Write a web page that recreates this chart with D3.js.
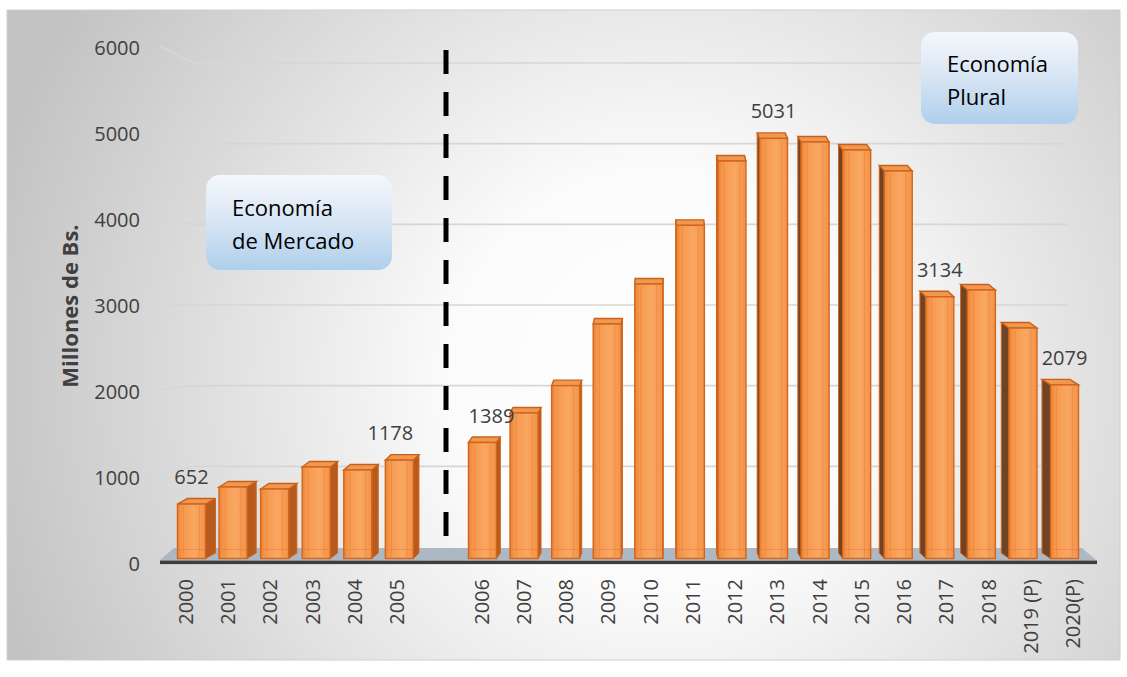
<!DOCTYPE html>
<html>
<head>
<meta charset="utf-8">
<script src="https://cdn.jsdelivr.net/npm/d3@7"></script>
<style>
  body { margin: 0; background: #ffffff; }
  svg { display: block; }
  text { font-family: "Open Sans", "Noto Sans", sans-serif; }
</style>
</head>
<body>
<svg id="chart" width="1127" height="677"></svg>
<script>
// Years (a blank slot separates the two periods)
const categories = ["2000", "2001", "2002", "2003", "2004", "2005", " ",
  "2006", "2007", "2008", "2009", "2010", "2011", "2012", "2013", "2014",
  "2015", "2016", "2017", "2018", "2019 (P)", "2020(P)"];
// Millones de Bs. per year
const values = [652, 856, 832, 1096, 1060, 1178, null,
  1389, 1743, 2070, 2808, 3287, 3990, 4760, 5031, 4988,
  4892, 4641, 3134, 3216, 2760, 2079];
// Years whose value is printed above the bar
const labelledYears = ["2000", "2005", "2006", "2013", "2017", "2020(P)"];
const yTicks = [0, 1000, 2000, 3000, 4000, 5000, 6000];
const axisTitle = "Millones de Bs.";
const periodNotes = [["Economía", "de Mercado"], ["Economía", "Plural"]];

const svg = d3.select("#chart");
const defs = svg.append("defs");

// ---- gradients ----
const bg = defs.append("radialGradient").attr("id", "bg")
  .attr("gradientUnits", "userSpaceOnUse")
  .attr("cx", 660).attr("cy", 380).attr("r", 700);
bg.append("stop").attr("offset", 0).attr("stop-color", "#ffffff");
bg.append("stop").attr("offset", 0.3).attr("stop-color", "#fbfbfb");
bg.append("stop").attr("offset", 1).attr("stop-color", "#c2c2c2");

const front = defs.append("linearGradient").attr("id", "front")
  .attr("x1", 0).attr("x2", 1).attr("y1", 0).attr("y2", 0);
[[0, "#ee8436"], [0.18, "#f6994f"], [0.6, "#f9a762"], [1, "#f39349"]]
  .forEach(([o, c]) => front.append("stop").attr("offset", o).attr("stop-color", c));

const note = defs.append("linearGradient").attr("id", "note")
  .attr("x1", 0).attr("x2", 0).attr("y1", 0).attr("y2", 1);
[[0, "#f4f7fc"], [0.45, "#dae7f5"], [1, "#afcfec"]]
  .forEach(([o, c]) => note.append("stop").attr("offset", o).attr("stop-color", c));

// ---- chart frame ----
svg.append("rect").attr("x", 7).attr("y", 10).attr("width", 1113).attr("height", 650)
  .attr("fill", "url(#bg)").attr("stroke", "#cfcfcf").attr("stroke-width", 1);

// ---- scales ----
const x = d3.scaleBand().domain(categories).range([170.7, 1085.3])
  .paddingInner(0.326).paddingOuter(0.163);
const xLabel = d3.scalePoint().domain(categories).range([186, 1073]);
const yFront = d3.scaleLinear().domain([0, 6000]).range([558.5, 57.5]);
const yBack = d3.scaleLinear().domain([0, 6000]).range([547, 63]);
const yTick = d3.scaleLinear().domain([0, 6000]).range([564, 48]);
// sideways depth of each bar, set by its horizontal position
const depthX = d3.scaleLinear().domain([191.5, 1064.5]).range([10, -8.5]);
const depthY = -5.5;

// ---- gridlines (side wall + back wall) ----
const grid = svg.append("g").attr("stroke", "#d6d6d6").attr("fill", "none").attr("stroke-width", 1.6);
yTicks.filter(v => v > 0).forEach(v => {
  grid.append("path").attr("d", d3.line()([[160, yTick(v) - 2], [193, yBack(v)], [1067, yBack(v)]]));
});

// ---- y axis labels ----
svg.append("g").selectAll("text").data(yTicks).join("text")
  .attr("x", 140).attr("y", d => yTick(d)).attr("dy", "0.36em")
  .attr("text-anchor", "end").attr("font-size", 20).attr("fill", "#404040")
  .text(d => d);

svg.append("text")
  .attr("transform", "translate(78,306) rotate(-90)")
  .attr("text-anchor", "middle").attr("font-size", 22).attr("font-weight", 700)
  .attr("fill", "#404040").text(axisTitle);

// ---- floor ----
svg.append("path")
  .attr("d", d3.line()([[160, 560], [1096, 560], [1082, 548], [174, 548]]) + "Z")
  .attr("fill", "#adb8c3");
svg.append("rect").attr("x", 160).attr("y", 560.5).attr("width", 937).attr("height", 3.6)
  .attr("fill", "#3d3d3d");

// ---- bars ----
const data = categories.map((c, i) => ({ cat: c, value: values[i] })).filter(d => d.value != null);
const bars = svg.append("g").selectAll("g").data(data).join("g");

bars.each(function (d) {
  const g = d3.select(this);
  const x0 = x(d.cat), x1 = x0 + x.bandwidth();
  const cx = (x0 + x1) / 2;
  const yt = yFront(d.value), yb = yFront(0);
  const dx = depthX(cx), dy = depthY;
  const edge = "#d2651c";
  // side face
  const sx = dx > 0 ? x1 : x0;
  g.append("path")
    .attr("d", d3.line()([[sx, yt], [sx + dx, yt + dy], [sx + dx, yb + dy], [sx, yb]]) + "Z")
    .attr("fill", dx > 0 ? "#b65a1d" : "#6f4426").attr("stroke", edge).attr("stroke-width", 1);
  // top face
  g.append("path")
    .attr("d", d3.line()([[x0, yt], [x0 + dx, yt + dy], [x1 + dx, yt + dy], [x1, yt]]) + "Z")
    .attr("fill", "#f0984f").attr("stroke", "#c9601a").attr("stroke-width", 1.4);
  // front face
  g.append("rect").attr("x", x0).attr("y", yt).attr("width", x1 - x0).attr("height", yb - yt)
    .attr("fill", "url(#front)").attr("stroke", edge).attr("stroke-width", 1.4);
  // faint facet lines on the front
  [0.22, 0.78].forEach(f => g.append("line")
    .attr("x1", x0 + f * (x1 - x0)).attr("x2", x0 + f * (x1 - x0))
    .attr("y1", yt + 2).attr("y2", yb - 2)
    .attr("stroke", "#e8782c").attr("stroke-opacity", 0.45).attr("stroke-width", 1));
  g.append("line").attr("x1", x0 + 1).attr("x2", x1 - 1).attr("y1", yb - 9).attr("y2", yb - 9)
    .attr("stroke", "#e8782c").attr("stroke-opacity", 0.5).attr("stroke-width", 1);
});

// ---- value labels ----
const labelNudge = { "2005": -9, "2006": 9 };
svg.append("g").selectAll("text")
  .data(data.filter(d => labelledYears.includes(d.cat))).join("text")
  .attr("x", d => x(d.cat) + x.bandwidth() / 2 + (labelNudge[d.cat] || 0))
  .attr("y", d => yFront(d.value) - 20)
  .attr("text-anchor", "middle").attr("font-size", 20).attr("fill", "#404040")
  .text(d => d.value);

// ---- x axis labels ----
svg.append("g").selectAll("text").data(categories.filter(c => c.trim() !== "")).join("text")
  .attr("transform", d => `translate(${xLabel(d) + 7},579) rotate(-90)`)
  .attr("text-anchor", "end").attr("font-size", 20).attr("fill", "#404040")
  .text(d => d);

// ---- period divider ----
svg.append("line").attr("x1", 446).attr("x2", 446).attr("y1", 50).attr("y2", 536)
  .attr("stroke", "#000").attr("stroke-width", 5).attr("stroke-dasharray", "24,18");

// ---- period notes ----
const noteBoxes = [
  { x: 206, y: 175, w: 186, h: 95, tx: 232, ty: [216, 249] },
  { x: 921, y: 32, w: 157, h: 92, tx: 947, ty: [72, 105] }
];
noteBoxes.forEach((b, i) => {
  svg.append("rect").attr("x", b.x).attr("y", b.y).attr("width", b.w).attr("height", b.h)
    .attr("rx", 14).attr("fill", "url(#note)");
  periodNotes[i].forEach((line, j) => svg.append("text")
    .attr("x", b.tx).attr("y", b.ty[j]).attr("font-size", 22).attr("fill", "#000")
    .text(line));
});
</script>
</body>
</html>
